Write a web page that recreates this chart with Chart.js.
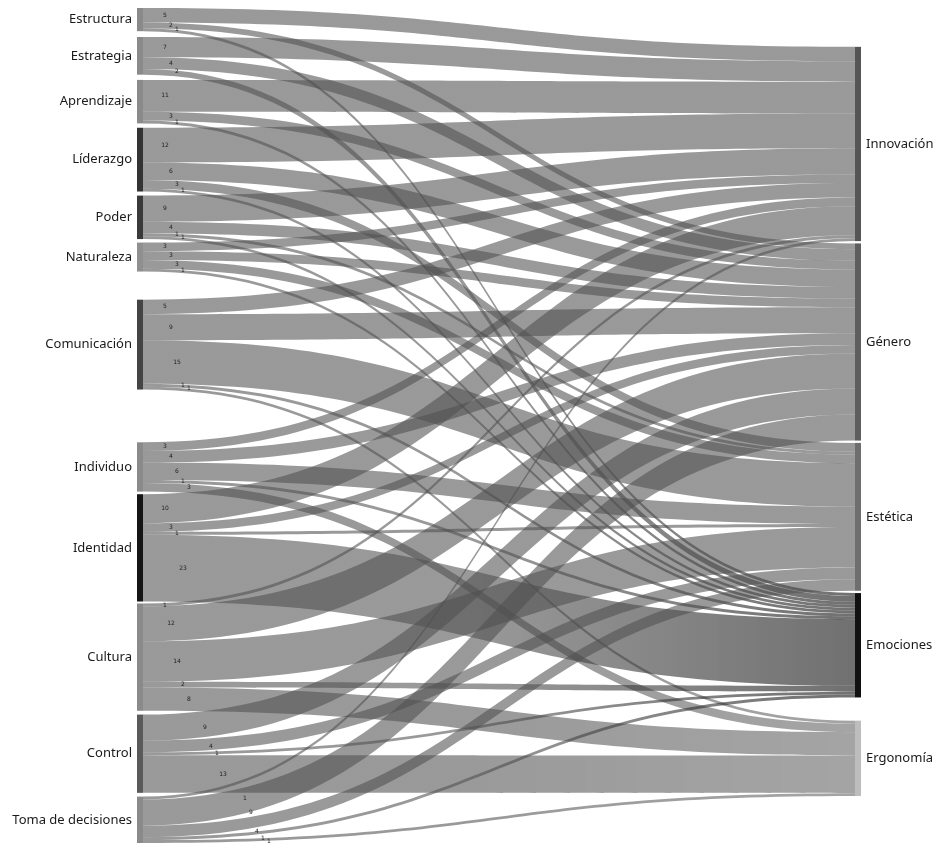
<!DOCTYPE html>
<html><head><meta charset="utf-8">
<script src="https://cdn.jsdelivr.net/npm/chart.js@4/dist/chart.umd.min.js"></script>
<style>html,body{margin:0;padding:0;background:#fff;overflow:hidden}#wrap{width:937px;height:843px;position:relative}</style>
</head><body><div id="wrap"><canvas id="c" width="937" height="843"></canvas></div>
<script>
// ---- data ----
const sourceNodes = ['Estructura','Estrategia','Aprendizaje','Líderazgo','Poder','Naturaleza','Comunicación','Individuo','Identidad','Cultura','Control','Toma de decisiones'];
const targetNodes = ['Innovación','Género','Estética','Emociones','Ergonomía'];
// flows from each source (same order as sourceNodes) into each target
const toInnovacion = [5,7,11,12,9,3,5,3,10,1,0,1];
const toGenero     = [2,4,3,6,4,3,9,4,3,12,9,9];
const toEstetica   = [0,0,0,3,1,3,15,6,1,14,4,4];
const toEmociones  = [1,2,1,1,1,1,1,1,23,2,1,1];
const toErgonomia  = [0,0,0,0,0,0,1,3,0,8,13,1];
const flowsByTarget = [toInnovacion,toGenero,toEstetica,toEmociones,toErgonomia];

// ---- styles / layout ----
const sourceColors = ['#8a8a8a','#8a8a8a','#8a8a8a','#333333','#3a3a3a','#8f8f8f','#444444','#8a8a8a','#151515','#8a8a8a','#5a5a5a','#8a8a8a'];
const targetColors = ['#555555','#5e5e5e','#6e6e6e','#111111','#bdbdbd'];
const linkEndColors = ['rgba(80,80,80,0.58)','rgba(80,80,80,0.58)','rgba(80,80,80,0.58)','rgba(25,25,25,0.62)','rgba(90,90,90,0.55)'];
const sourceGapBefore = [0,2,1.8,1.5,1.4,1.2,9.7,18.2,0.9,0.7,1.3,1.3];
const targetGapBefore = [13.4,0.8,0.8,0.8,8];
const yMaxUnits = 288;

function buildLayout(){
  const links=[];
  sourceNodes.forEach((s,i)=>{targetNodes.forEach((t,j)=>{const v=flowsByTarget[j][i]; if(v>0) links.push({s:i,t:j,v});});});
  const sNodes=[];let y=0;
  sourceNodes.forEach((n,i)=>{y+=sourceGapBefore[i];const v=links.filter(l=>l.s===i).reduce((a,l)=>a+l.v,0);sNodes.push({name:n,y0:y,y1:y+v});y+=v;});
  const tNodes=[];y=0;
  targetNodes.forEach((n,j)=>{y+=targetGapBefore[j];const v=links.filter(l=>l.t===j).reduce((a,l)=>a+l.v,0);tNodes.push({name:n,y0:y,y1:y+v});y+=v;});
  sNodes.forEach((n,i)=>{let o=n.y0;links.filter(l=>l.s===i).sort((a,b)=>a.t-b.t).forEach(l=>{l.sy0=o;l.sy1=o+l.v;o+=l.v;});});
  tNodes.forEach((n,j)=>{let o=n.y0;links.filter(l=>l.t===j).sort((a,b)=>a.s-b.s).forEach(l=>{l.ty0=o;l.ty1=o+l.v;o+=l.v;});});
  return {links,sNodes,tNodes};
}
const layoutData = buildLayout();

const sankeyPlugin = {
  id:'sankeyDraw',
  afterDatasetsDraw(chart, args, opts){
    const ctx=chart.ctx, xs=chart.scales.x, ys=chart.scales.y;
    const nodeW = opts.nodeWidth;
    const xL0 = xs.getPixelForValue(0), xL1 = xL0+nodeW;
    const xR1 = xs.getPixelForValue(1), xR0 = xR1-nodeW;
    const {links,sNodes,tNodes}=layoutData;
    ctx.save();
    links.forEach(l=>{
      const a0=ys.getPixelForValue(l.sy0), a1=ys.getPixelForValue(l.sy1);
      const b0=ys.getPixelForValue(l.ty0), b1=ys.getPixelForValue(l.ty1);
      const dx=(xR0-xL1)*opts.curvature;
      ctx.beginPath();
      ctx.moveTo(xL1,a0);
      ctx.bezierCurveTo(xL1+dx,a0,xR0-dx,b0,xR0,b0);
      ctx.lineTo(xR0,b1);
      ctx.bezierCurveTo(xR0-dx,b1,xL1+dx,a1,xL1,a1);
      ctx.closePath();
      const g=ctx.createLinearGradient(xL1,0,xR0,0);
      g.addColorStop(0,opts.linkColor);
      g.addColorStop(0.45,opts.linkColor);
      g.addColorStop(1,linkEndColors[l.t]);
      ctx.fillStyle=g;
      ctx.fill();
    });
    sNodes.forEach((n,i)=>{const p0=ys.getPixelForValue(n.y0),p1=ys.getPixelForValue(n.y1);ctx.fillStyle=sourceColors[i];ctx.fillRect(xL0,p0,nodeW,p1-p0);});
    tNodes.forEach((n,j)=>{const p0=ys.getPixelForValue(n.y0),p1=ys.getPixelForValue(n.y1);ctx.fillStyle=targetColors[j];ctx.fillRect(xR0,p0,nodeW,p1-p0);});
    ctx.font='6px "DejaVu Sans"';ctx.fillStyle='#222';ctx.textAlign='center';ctx.textBaseline='middle';
    sNodes.forEach((n,i)=>{links.filter(l=>l.s===i).forEach((l,k)=>{const y=ys.getPixelForValue((l.sy0+l.sy1)/2);ctx.fillText(String(l.v),xL1+22+k*6+(i>9?(i-9)*40:0),y);});});
    ctx.font='13px "Noto Sans"';ctx.fillStyle='#1a1a1a';ctx.textBaseline='middle';
    ctx.textAlign='right';
    sNodes.forEach(n=>{ctx.fillText(n.name,xL0-5,ys.getPixelForValue((n.y0+n.y1)/2));});
    ctx.textAlign='left';
    tNodes.forEach(n=>{ctx.fillText(n.name,xR1+5,ys.getPixelForValue((n.y0+n.y1)/2));});
    ctx.restore();
  }
};

new Chart(document.getElementById('c'),{
  type:'scatter',
  data:{datasets:[{data:[],pointRadius:0}]},
  options:{
    responsive:false,animation:false,
    layout:{padding:{left:137,right:76,top:8,bottom:0}},
    plugins:{legend:{display:false},tooltip:{enabled:false},
      sankeyDraw:{nodeWidth:6,curvature:0.5,linkColor:'rgba(80,80,80,0.58)'}},
    scales:{
      x:{type:'linear',min:0,max:1,display:false},
      y:{type:'linear',min:0,max:yMaxUnits,reverse:true,display:false}
    }
  },
  plugins:[sankeyPlugin]
});
</script></body></html>
